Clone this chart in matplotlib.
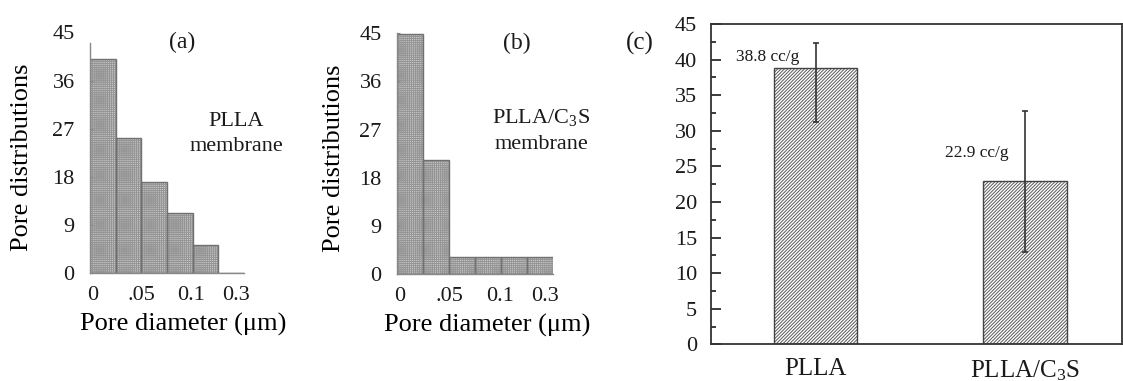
import numpy as np
import matplotlib.pyplot as plt
from matplotlib.ticker import MultipleLocator

plt.rcParams['font.family'] = ['Liberation Serif', 'DejaVu Serif']
plt.rcParams['mathtext.fontset'] = 'custom'
plt.rcParams['mathtext.rm'] = 'Liberation Serif'
plt.rcParams['mathtext.it'] = 'Liberation Serif:italic'
plt.rcParams['hatch.linewidth'] = 0.7
plt.rcParams['text.color'] = '#1a1a1a'
plt.rcParams['xtick.color'] = '#1a1a1a'
plt.rcParams['ytick.color'] = '#1a1a1a'

# pore size histograms (counts per diameter bin)
diam_ticks = ['0', '.05', '0.1', '0.3']
diam_tick_pos = [0.1, 2.0, 3.95, 5.7]
pore_plla = [40.0, 25.3, 17.1, 11.3, 5.3, 0.0]
pore_c3s = [44.8, 21.3, 3.1, 3.1, 3.1, 3.1]
count_ticks = [0, 9, 18, 27, 36, 45]

# pore volume
samples = ['PLLA', 'PLLA/C$_3$S']
pore_vol = [38.8, 22.9]
vol_hi = [42.3, 32.8]
vol_lo = [31.3, 12.9]

fig = plt.figure(figsize=(11.23, 3.81), dpi=100)

def hist_panel(rect, counts, tag, name, spine_top, tag_xy, name_xy, ylab_x, xlab_x):
    ax = fig.add_axes(rect)
    x = np.arange(len(counts))
    # dotted fill, then the outlines on top
    ax.bar(x, counts, width=1.0, align='edge', color='#cacaca',
           edgecolor='#959595', linewidth=0, hatch='++++++++')
    ax.bar(x, counts, width=1.0, align='edge', fill=False,
           edgecolor='#707070', linewidth=1.0)
    ax.set_xlim(0, len(counts))
    ax.set_ylim(0, 45)
    for s in ['top', 'right']:
        ax.spines[s].set_visible(False)
    for s in ['left', 'bottom']:
        ax.spines[s].set_color('#888888')
        ax.spines[s].set_linewidth(1.0)
    ax.spines['left'].set_bounds(0, spine_top)
    ax.set_yticks(count_ticks)
    if spine_top < 45:
        ax.yaxis.get_major_ticks()[-1].tick1line.set_visible(False)
    ax.set_xticks(diam_tick_pos)
    ax.set_xticklabels(diam_ticks)
    ax.tick_params(axis='y', direction='in', length=2.5, color='#888888',
                   labelsize=16, pad=11)
    ax.tick_params(axis='x', length=0, labelsize=16, pad=9)
    ax.set_ylabel('Pore distributions', fontsize=19)
    ax.yaxis.set_label_coords(ylab_x, 0.48)
    ax.set_xlabel('Pore diameter (μm)', fontsize=19)
    ax.xaxis.set_label_coords(xlab_x, -0.165)
    ax.text(tag_xy[0], tag_xy[1], tag, fontsize=17, ha='center', va='center')
    ax.text(name_xy[0], name_xy[1], name + '\nmembrane', fontsize=16,
            ha='center', va='center', linespacing=1.45)
    return ax

hist_panel([0.0801, 0.2827, 0.1371, 0.632], pore_plla, '(a)', 'PLLA',
           43, (3.58, 43.2), (5.7, 26.0), -0.37, 0.607)
hist_panel([0.3535, 0.2808, 0.1389, 0.632], pore_c3s, '(b)', 'PLLA/C$_3$S',
           45, (4.62, 43.0), (5.54, 26.8), -0.335, 0.58)

# (c) pore volume bars
ax = fig.add_axes([0.6331, 0.0963, 0.3660, 0.8407])
xc = np.arange(len(samples))
yerr = [np.array(pore_vol) - np.array(vol_lo), np.array(vol_hi) - np.array(pore_vol)]
ax.bar(xc, pore_vol, width=0.4, color='white', edgecolor='#5a5a5a',
       linewidth=0, hatch='/' * 10)
ax.bar(xc, pore_vol, width=0.4, fill=False, edgecolor='#444444', linewidth=1.0)
ax.errorbar(xc + 0.002, pore_vol, yerr=yerr, fmt='none', ecolor='#333333',
            elinewidth=1.2, capsize=2.5, capthick=1.2)
ax.set_xlim(-0.5, 1.465)
ax.set_ylim(0, 45)
ax.yaxis.set_major_locator(MultipleLocator(5))
ax.yaxis.set_minor_locator(MultipleLocator(2.5))
ax.tick_params(axis='y', which='major', direction='in', length=7, width=1.2,
               labelsize=16, pad=10)
ax.tick_params(axis='y', which='minor', direction='in', length=3.5, width=1.2)
ax.set_xticks(xc)
ax.set_xticklabels(samples)
ax.tick_params(axis='x', length=0, labelsize=18, pad=10)
for s in ax.spines.values():
    s.set_color('#333333')
    s.set_linewidth(1.3)

lab_pos = [(-0.227, 40.3), (0.77, 26.9)]
for v, (lx, ly) in zip(pore_vol, lab_pos):
    ax.text(lx, ly, f'{v:.1f} cc/g', fontsize=12.5, ha='center', va='center')

fig.text(0.570, 0.887, '(c)', fontsize=18, ha='center', va='center')

fig.savefig('out.png', dpi=100)
